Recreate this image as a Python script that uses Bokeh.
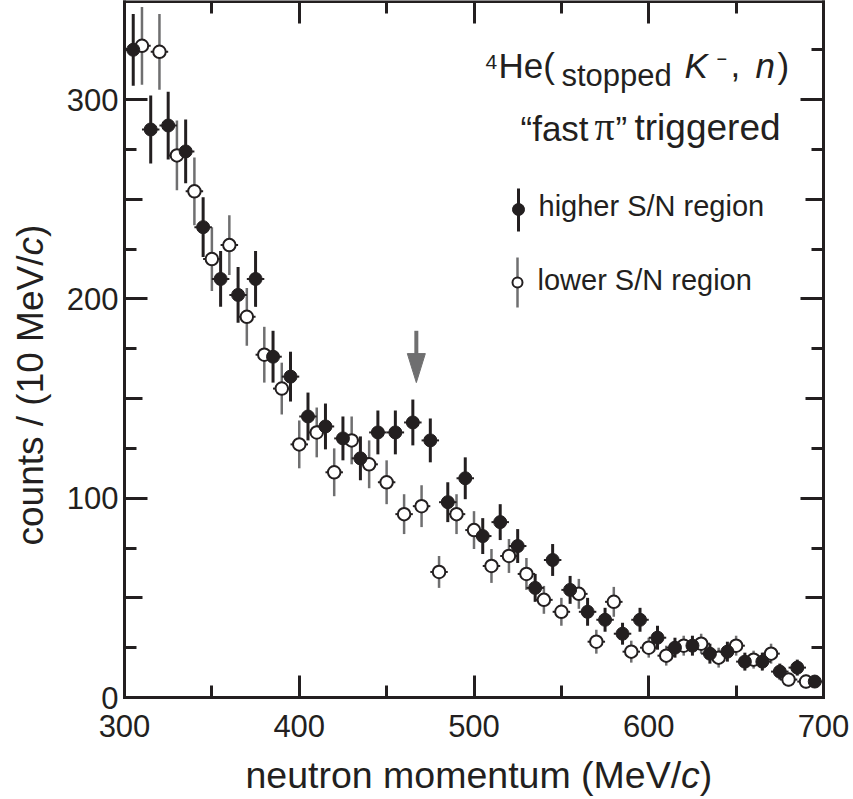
import math
from bokeh.plotting import figure
from bokeh.models import Range1d, FixedTicker, LinearAxis, Label, ColumnDataSource
from bokeh.embed import file_html
from bokeh.resources import INLINE

# ---------------- data ----------------
high_p = [305, 315, 325, 335, 345, 355, 365, 375, 385, 395,
          405, 415, 425, 435, 445, 455, 465, 475, 485, 495,
          505, 515, 525, 535, 545, 555, 565, 575, 585, 595,
          605, 615, 625, 635, 645, 655, 665, 675, 685, 695]
high_counts = [325, 285, 287, 274, 236, 210, 202, 210, 171, 161,
               141, 136, 130, 120, 133, 133, 138, 129, 98, 110,
               81, 88, 76, 55, 69, 54, 43, 39, 32, 39,
               30, 25, 26, 22, 23, 18, 18, 13, 15, 8]
high_err = [18, 17, 17, 16, 15, 14, 14, 14, 13, 12.5,
            12, 11.5, 11, 11, 11, 11, 11.5, 11, 10, 10.5,
            9, 9, 8.5, 7, 8, 7, 7, 6, 5.5, 6,
            6, 5, 5, 5, 5, 4.5, 4.5, 4, 4, 3]

low_p = [310, 320, 330, 340, 350, 360, 370, 380, 390, 400,
         410, 420, 430, 440, 450, 460, 470, 480, 490, 500,
         510, 520, 530, 540, 550, 560, 570, 580, 590, 600,
         610, 620, 630, 640, 650, 660, 670, 680, 690]
low_counts = [327, 324, 272, 254, 220, 227, 191, 172, 155, 127,
              133, 113, 129, 117, 108, 92, 96, 63, 92, 84,
              66, 71, 62, 49, 43, 52, 28, 48, 23, 25,
              21, 26, 27, 20, 26, 19, 22, 9, 8]
low_err = [19.5, 19, 17.5, 17, 16, 15, 14.5, 14, 13, 12,
           12.5, 12, 12, 12, 11, 10, 10.5, 8, 10, 9.5,
           8.5, 8.5, 8, 7, 7, 7.5, 6, 7.5, 5.5, 5,
           5, 5, 5, 5, 5, 4.5, 5, 3.5, 3.5]

bin_half = 5
x_min, x_max = 300, 700
y_min, y_max = 0, 349.4
x_ticks = [300, 400, 500, 600, 700]
x_minor = [350, 450, 550, 650]
y_ticks = [0, 100, 200, 300]
y_mid = [50, 150, 250]
y_minor = [25, 75, 125, 175, 225, 275, 325]
peak_p = 467          # arrow position (MeV/c)
arrow_top, arrow_tip = 184, 158

INK = "#231f20"
GRAY = "#6f6f70"
FONT = "Liberation Sans"

# pixel geometry of the frame inside the 853x799 canvas
W_PX, H_PX = 853, 799
LEFT_PX, BOTTOM_PX = 124, 697
SX, SY = 1.7475, 1.993      # px per unit

p = figure(width=W_PX, height=H_PX,
           x_range=Range1d(x_min - LEFT_PX / SX, x_min + (W_PX - LEFT_PX) / SX),
           y_range=Range1d(-(H_PX - BOTTOM_PX) / SY, BOTTOM_PX / SY),
           x_axis_location=None, y_axis_location=None,
           output_backend="svg", toolbar_location=None)
p.min_border = 0
p.min_border_left = p.min_border_right = p.min_border_top = p.min_border_bottom = 0
p.outline_line_color = None
for g in p.grid:
    g.visible = False
p.background_fill_color = "white"
p.border_fill_color = "white"


def mk_axis(side, loc, ticks, minor, major_in, minor_in, line=True, standoff=8):
    ax = LinearAxis(fixed_location=loc, ticker=FixedTicker(ticks=ticks, minor_ticks=minor))
    ax.bounds = (x_min, x_max) if side in ("below", "above") else (y_min, y_max)
    ax.axis_line_width = 3
    ax.axis_line_color = INK if line else None
    ax.axis_line_cap = "square"
    ax.major_tick_in = major_in
    ax.major_tick_out = 0
    ax.minor_tick_in = minor_in
    ax.minor_tick_out = 0
    ax.major_tick_line_width = 3
    ax.minor_tick_line_width = 3
    ax.major_tick_line_color = INK
    ax.minor_tick_line_color = INK
    ax.major_label_text_font = FONT
    ax.major_label_text_font_size = "31px"
    ax.major_label_text_color = INK
    ax.major_label_standoff = standoff
    p.add_layout(ax, side)
    return ax


# labelled axes
mk_axis("below", y_min, x_ticks, x_minor, 22, 12, standoff=17)
mk_axis("left", x_min, y_ticks, y_minor, 23, 12, standoff=6)
mk_axis("left", x_min, [], y_mid, 0, 18, line=False)
# mirrored tick-only axes (minor ticks only -> no labels)
mk_axis("above", y_max, [], x_ticks, 0, 22)
mk_axis("above", y_max, [], x_minor, 0, 12, line=False)
mk_axis("right", x_max, [], y_ticks, 0, 23)
mk_axis("right", x_max, [], y_minor, 0, 12, line=False)
mk_axis("right", x_max, [], y_mid, 0, 18, line=False)

# ---------------- data marks ----------------
hs = ColumnDataSource(dict(
    x=high_p, y=high_counts,
    lo=[c - e for c, e in zip(high_counts, high_err)],
    hi=[c + e for c, e in zip(high_counts, high_err)],
    xl=[x - bin_half for x in high_p], xr=[x + bin_half for x in high_p]))
ls = ColumnDataSource(dict(
    x=low_p, y=low_counts,
    lo=[c - e for c, e in zip(low_counts, low_err)],
    hi=[c + e for c, e in zip(low_counts, low_err)],
    xl=[x - bin_half for x in low_p], xr=[x + bin_half for x in low_p]))

p.segment(x0="x", y0="lo", x1="x", y1="hi", source=ls, line_color=GRAY, line_width=2.5)
p.segment(x0="xl", y0="y", x1="xr", y1="y", source=ls, line_color=INK, line_width=2)
p.segment(x0="x", y0="lo", x1="x", y1="hi", source=hs, line_color=INK, line_width=3)
p.segment(x0="xl", y0="y", x1="xr", y1="y", source=hs, line_color=INK, line_width=2)
p.scatter(x="x", y="y", source=ls, marker="circle", size=12.5, fill_color="white",
          line_color=INK, line_width=2)
p.scatter(x="x", y="y", source=hs, marker="circle", size=13, fill_color=INK,
          line_color=INK, line_width=1)


# ---------------- pixel helpers for annotations ----------------
def dx(px):
    return x_min + (px - LEFT_PX) / SX


def dy(py):
    return (BOTTOM_PX - py) / SY


# arrow marking the peak
head_len = 29 / SY
head_half = 9 / SX
p.segment(x0=[peak_p], y0=[arrow_top], x1=[peak_p], y1=[arrow_tip + head_len * 0.5],
          line_color=GRAY, line_width=4)
p.patch(x=[peak_p - head_half, peak_p + head_half, peak_p],
        y=[arrow_tip + head_len, arrow_tip + head_len, arrow_tip],
        fill_color=GRAY, line_color=GRAY, line_width=1)

SHIFT = 0.35   # empirical baseline correction (fraction of font size)


def lab(px, py, text, size, style="normal", angle=0, font=FONT, color=INK):
    if angle == 0:
        py = py - SHIFT * size
    else:
        px = px - SHIFT * size
    p.add_layout(Label(x=dx(px), y=dy(py), text=text, text_font=font,
                       text_font_size=f"{size}px", text_font_style=style,
                       text_color=color, text_align="left", text_baseline="alphabetic",
                       angle=angle))


CW = {' ': 278, '/': 278, '(': 333, ')': 333, '0': 556, '1': 556, 'M': 833, 'V': 667,
      'a': 556, 'c': 500, 'e': 556, 'm': 833, 'n': 556, 'o': 556, 'r': 333, 's': 500,
      't': 278, 'u': 556}


def tw(s, size):
    return sum(CW[ch] for ch in s) * size / 1000.0


# x axis label
AX = 37.5
s1 = "neutron momentum (MeV/"
x0 = 245
lab(x0, 788, s1, AX)
lab(x0 + tw(s1, AX), 788, "c", AX, style="italic")
lab(x0 + tw(s1, AX) + tw("c", AX), 788, ")", AX)

# y axis label (rotated)
AY = 37
s2 = "counts / (10 MeV/"
y0 = 545
lab(43, y0, s2, AY, angle=math.pi / 2)
lab(43, y0 - tw(s2, AY), "c", AY, style="italic", angle=math.pi / 2)
lab(43, y0 - tw(s2, AY) - tw("c", AY), ")", AY, angle=math.pi / 2)

# title block
lab(485, 69, "4", 21)
lab(498, 77, "He(", 35)
lab(561, 86, "stopped", 31)
lab(684, 77, "K", 35, style="italic")
lab(716, 64, "\u2212", 18)
lab(730, 77, ",", 35)
lab(755, 77, "n", 35, style="italic")
lab(777, 77, ")", 35)

lab(520, 140, "\u201cfast", 35)
lab(594, 140, "\u03c0", 40, font="Liberation Serif")
lab(615, 140, "\u201d", 35)
lab(634, 140, "triggered", 37)

# legend
p.segment(x0=[dx(518)], y0=[dy(188)], x1=[dx(518)], y1=[dy(231)], line_color=INK, line_width=3)
p.scatter(x=[dx(518)], y=[dy(209)], marker="circle", size=12, fill_color=INK, line_color=INK)
p.segment(x0=[dx(517)], y0=[dy(257)], x1=[dx(517)], y1=[dy(307)], line_color=GRAY, line_width=2.5)
p.scatter(x=[dx(517)], y=[dy(282)], marker="circle", size=10, fill_color="white",
          line_color=INK, line_width=2)
lab(538, 216, "higher S/N region", 29)
lab(537, 290, "lower S/N region", 29)

open("out.html", "w").write(file_html(p, INLINE))
